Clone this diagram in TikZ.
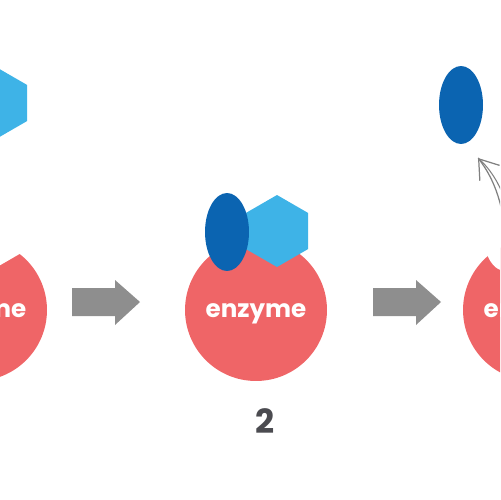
\documentclass[tikz,border=0pt]{standalone}
\usepackage{fontspec}
\setmainfont{Poppins}
\usetikzlibrary{shapes.geometric,arrows.meta}
\definecolor{enzred}{HTML}{EF6567}
\definecolor{subblue}{HTML}{3EB3E7}
\definecolor{prodblue}{HTML}{0B64B1}
\definecolor{stepgray}{HTML}{8E8E8E}
\definecolor{labgray}{HTML}{4B4B50}
\tikzset{
  enzyme/.style={circle,fill=enzred,minimum size=2.84cm,inner sep=0,text=white,
                 text height=1.6ex,text depth=0pt,
                 font=\bfseries\fontsize{14}{16}\selectfont},
  hexa/.style={regular polygon,regular polygon sides=6,shape border rotate=30,
               fill=subblue,minimum size=1.44cm,inner sep=0},
  oval/.style={ellipse,fill=prodblue,minimum width=0.88cm,minimum height=1.56cm,inner sep=0},
  % the empty pocket where substrate / product sit
  notch/.style={fill=white,draw=none},
  blockarrow/.style={fill=stepgray},
  release/.style={draw=gray,line width=0.7pt,-{Straight Barb[length=3.6mm,width=5mm]}},
  numlab/.style={text=labgray,font=\bfseries\fontsize{19}{22}\selectfont},
}

\begin{document}
\begin{tikzpicture}[x=0.02cm,y=-0.02cm]
  \useasboundingbox (0,0) rectangle (500,500);
  \clip (0,0) rectangle (500,500);
  % Panel 1: free substrate above the empty enzyme
  \node[hexa] (subA) at (-4,103) {};
  \node[enzyme] (enzA) at (-24,310) {enzyme};
  \node[hexa,notch] (pocketA) at (-3,231) {};
  \node[oval,notch] (slotA) at (-53,232) {};
  % Panel 2: both bound
  \node[enzyme] (enzB) at (256,310) {enzyme};
  \node[hexa] (subB) at (277,231) {};
  \node[oval] (prodB) at (227,232) {};
  \node[numlab] (stepnum) at (265,421) {2};
  % Panel 3: product released
  \node[enzyme] (enzC) at (534,310) {enzyme};
  \node[oval,notch] (slotC) at (505,232) {};
  \node[oval] (prodC) at (461,105) {};
  \coordinate (tip) at (478,158);
  \coordinate (tail) at (506,240);
  \coordinate (tail2) at (512,232);
  \draw[release] (tail) .. controls (503,200) and (492,176) .. (tip);
  \draw[draw=gray,line width=0.6pt] (tail2) .. controls (508,196) and (494,172) .. (tip);
  % block arrows between the panels
  \foreach \dx in {0,301} {
    \fill[blockarrow] (72+\dx,288) -- (115+\dx,288) -- (115+\dx,280) -- (140+\dx,302)
      -- (115+\dx,325) -- (115+\dx,316) -- (72+\dx,316) -- cycle;
  }
\end{tikzpicture}
\end{document}
